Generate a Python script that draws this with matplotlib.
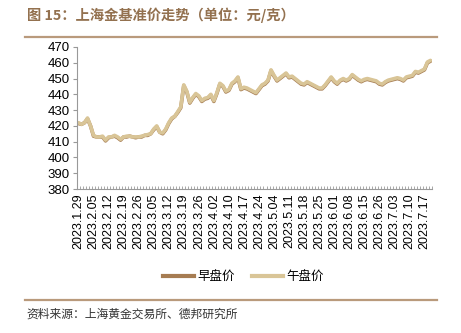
import matplotlib.pyplot as plt
from matplotlib.ticker import FixedLocator, NullFormatter
from matplotlib.lines import Line2D

plt.rcParams['font.family'] = ['Liberation Sans', 'Noto Sans CJK SC', 'DejaVu Sans']

# afternoon (午盘价) fixing, yuan/gram
pm_price = [422, 421, 422, 425, 420, 414, 413, 413, 413.5, 411,
            413, 413, 414, 413, 411.5, 413, 413.5, 413.5, 413, 413,
            413, 413.5, 414, 414.5, 415, 418, 420, 416, 415.5, 418,
            422, 425, 426, 429, 432, 446, 442, 435, 438, 440.5,
            439, 436, 437.5, 438, 440, 436, 441, 447, 445.5, 442,
            443, 447, 448.5, 451, 443.5, 444.5, 444, 443, 442, 441,
            443.5, 446, 447, 449, 455.5, 452, 449, 450.5, 452, 453.5,
            451, 451.5, 450, 448.5, 447, 446.5, 448, 447, 446, 445,
            444, 444, 446, 448.5, 451, 448.5, 447, 449, 450, 449,
            450, 452.5, 451, 449.5, 448.5, 449.5, 450, 449.5, 449, 448.5,
            447, 446.5, 448, 449, 449.5, 450, 450.5, 450, 449, 451,
            451.5, 452, 454.5, 454, 455, 456, 460.5, 461.5]

# morning (早盘价) fixing, yuan/gram
am_price = [421.5, 421, 422, 424.5, 420, 413.5, 413, 413, 413, 410.5,
            412.5, 413, 413.5, 412.5, 411, 413, 413, 413.5, 413, 412.5,
            413, 413, 414, 414, 415, 417.5, 419.5, 416, 415, 417.5,
            421.5, 424.5, 426, 428.5, 431.5, 445.5, 441.5, 434.5, 437.5, 440,
            438.5, 435.5, 437, 437.5, 439.5, 435.5, 440.5, 446.5, 445, 441.5,
            442.5, 446.5, 448, 450.5, 443, 444, 443.5, 442.5, 441.5, 440.5,
            443, 445.5, 446.5, 448.5, 455, 451.5, 448.5, 450, 451.5, 453,
            450.5, 451, 449.5, 448, 446.5, 446, 447.5, 446.5, 445.5, 444.5,
            443.5, 443.5, 445.5, 448, 450.5, 448, 446.5, 448.5, 449.5, 448.5,
            449.5, 452, 450.5, 449, 448, 449, 449.5, 449, 448.5, 448,
            446.5, 446, 447.5, 448.5, 449, 449.5, 450, 449.5, 448.5, 450.5,
            451, 451.5, 454, 453.5, 454.5, 455.5, 460, 461]

tick_labels = ['2023.1.29', '2023.2.05', '2023.2.12', '2023.2.19', '2023.2.26',
               '2023.3.05', '2023.3.12', '2023.3.19', '2023.3.26', '2023.4.02',
               '2023.4.10', '2023.4.17', '2023.4.24', '2023.5.04', '2023.5.11',
               '2023.5.18', '2023.5.25', '2023.6.01', '2023.6.08', '2023.6.15',
               '2023.6.26', '2023.7.03', '2023.7.10', '2023.7.17']

am_color = '#A67C52'
pm_color = '#D9C597'
brown = '#93714F'
rule = '#B99A7C'

fig = plt.figure(figsize=(4.61, 3.33), dpi=100)
ax = fig.add_axes([0.167, 0.4324, 0.770, 0.4265])

x = list(range(len(pm_price)))
ax.plot(x, am_price, color=am_color, lw=2.6, solid_capstyle='round')
ax.plot(x, pm_price, color=pm_color, lw=2.6, solid_capstyle='round')

ax.set_xlim(-0.5, len(pm_price) - 0.5)
ax.set_ylim(380, 470)
ax.set_yticks(range(380, 471, 10))

ax.set_xticks(range(0, len(pm_price), 5))
ax.set_xticklabels(tick_labels, rotation=90, fontsize=9)
ax.xaxis.set_minor_locator(FixedLocator([i - 0.5 for i in range(len(pm_price) + 1)]))
ax.xaxis.set_minor_formatter(NullFormatter())
ax.tick_params(axis='x', which='major', length=0, pad=3)
ax.tick_params(axis='x', which='minor', direction='in', length=2.5, width=0.6, color='#999999')
ax.tick_params(axis='y', labelsize=9.5, length=3, width=0.8, color='#999999', pad=2)

for s in ['top', 'right']:
    ax.spines[s].set_visible(False)
for s in ['left', 'bottom']:
    ax.spines[s].set_color('#999999')
    ax.spines[s].set_linewidth(0.8)

handles = [Line2D([], [], color=am_color, lw=3), Line2D([], [], color=pm_color, lw=3)]
fig.legend(handles, ['早盘价', '午盘价'], loc='center', bbox_to_anchor=(0.528, 0.168),
           ncol=2, frameon=False, handlelength=2.5, handletextpad=0.3,
           columnspacing=1.3, prop={'family': ['Noto Sans CJK SC'], 'size': 9})

fig.text(0.058, 0.953, '图 15：上海金基准价走势（单位：元/克）', fontsize=10.3, fontweight='bold',
         color=brown, va='center', family=['Noto Sans CJK SC', 'DejaVu Sans'])
fig.add_artist(Line2D([0.055, 0.948], [0.888, 0.888], color=rule, lw=1.6))
fig.add_artist(Line2D([0.055, 0.948], [0.099, 0.099], color=rule, lw=1.6))
fig.text(0.058, 0.056, '资料来源：上海黄金交易所、德邦研究所', fontsize=8.5, color='#333333',
         va='center', family=['Noto Sans CJK SC', 'DejaVu Sans'])

fig.savefig('out.png', dpi=100)
